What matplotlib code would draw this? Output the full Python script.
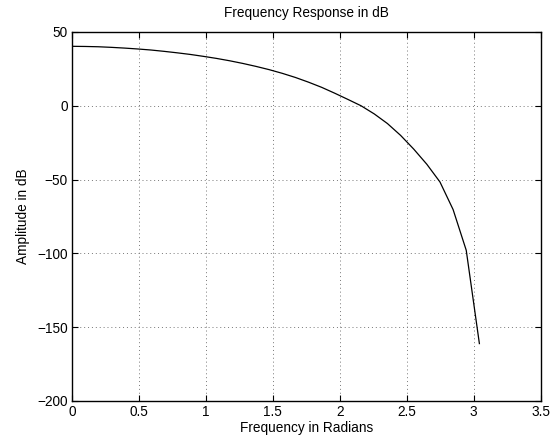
import numpy as np
import matplotlib
matplotlib.use("Agg")
import matplotlib.pyplot as plt

plt.rcParams['font.family'] = ['Liberation Sans', 'DejaVu Sans']

# frequency samples: k*pi/32, k = 0..31
freq_k = list(range(32))
freq = [k * np.pi / 32 for k in freq_k]
amp_db = [40.3, 40.2, 40.0, 39.6, 39.1, 38.5, 37.8, 36.9, 35.9, 34.8,
          33.5, 32.1, 30.5, 28.7, 26.7, 24.5, 22.0, 19.2, 16.0, 12.5,
          8.5, 4.3, 0.0, -5.5, -12.0, -20.0, -29.3, -39.6, -51.6, -70.3,
          -97.9, -161.1]

xticks = [0, 0.5, 1, 1.5, 2, 2.5, 3, 3.5]
xticklabels = ['0', '0.5', '1', '1.5', '2', '2.5', '3', '3.5']
yticks = [-200, -150, -100, -50, 0, 50]
yticklabels = ['\u2212200', '\u2212150', '\u2212100', '\u221250', '0', '50']

fig = plt.figure(figsize=(5.56, 4.41), dpi=100)
ax = fig.add_axes([72/556, 1 - 401/441, (540.5 - 72)/556, (401 - 32)/441])
ax.plot(freq, amp_db, color='black', linewidth=0.9)
ax.set_xlim(0, 3.5)
ax.set_ylim(-200, 50)
ax.set_xticks(xticks)
ax.set_xticklabels(xticklabels)
ax.set_yticks(yticks)
ax.set_yticklabels(yticklabels)
ax.grid(True, linestyle=(0, (1, 3)), color='#777777', linewidth=0.7)
ax.tick_params(direction='in', top=True, right=True, length=4, width=0.8,
               labelsize=9.8, pad=3, colors='black')
for s in ax.spines.values():
    s.set_linewidth(1.0)
ax.set_title('Frequency Response in dB', fontsize=9.8, pad=11)
ax.set_xlabel('Frequency in Radians', fontsize=9.8, labelpad=1)
ax.set_ylabel('Amplitude in dB', fontsize=9.8, labelpad=5)

fig.savefig('out.png', dpi=100)
